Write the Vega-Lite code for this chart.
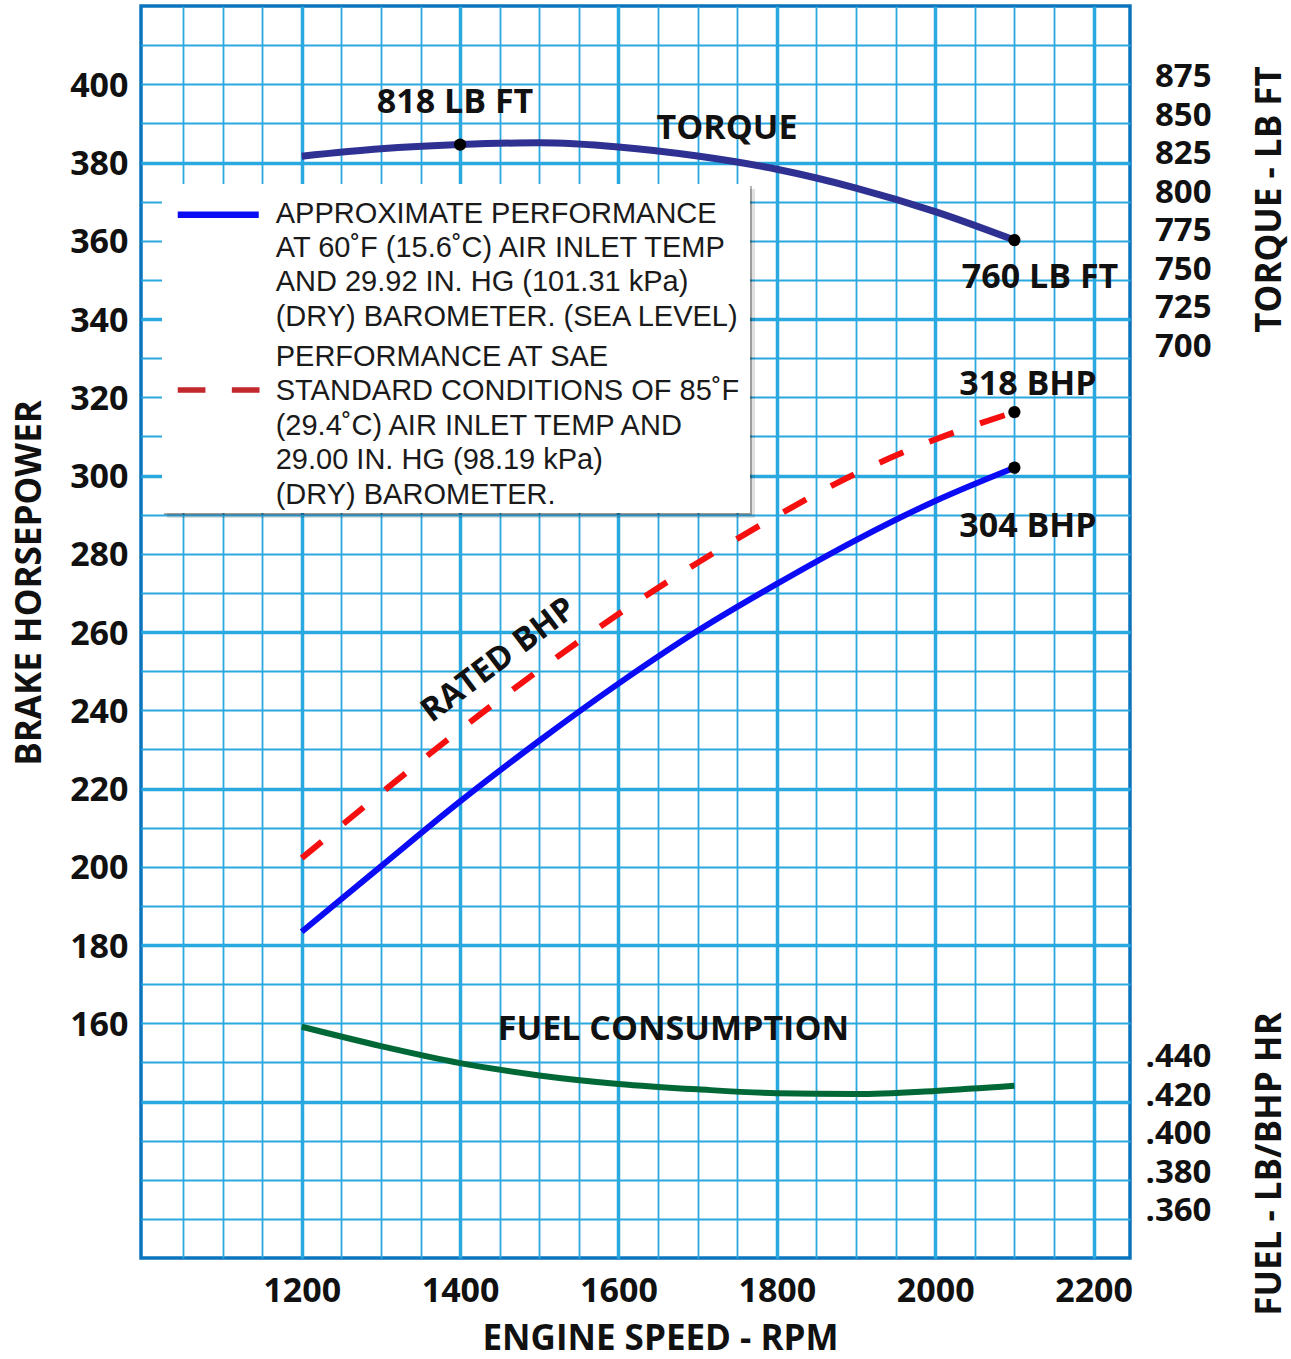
{
  "$schema": "https://vega.github.io/schema/vega-lite/v6.json",
  "width": 989,
  "height": 1252,
  "autosize": "none",
  "padding": {"left": 141, "top": 6, "right": 161, "bottom": 101},
  "background": "white",
  "config": {
    "view": {"stroke": "#0b74bd", "strokeWidth": 3.5, "fill": "white"},
    "axis": {
      "labelFont": "Open Sans", "labelFontWeight": "bold", "labelFontSize": 34, "labelColor": "#111111",
      "titleFont": "Open Sans", "titleFontWeight": "bold", "titleFontSize": 35, "titleColor": "#111111",
      "ticks": false, "tickSize": 0, "domain": false, "labelOverlap": false, "labelFlush": false
    }
  },
  "datasets": {
    "bhp": [
      {"rpm": 1200, "approx": 183.4, "rated": 202.2},
      {"rpm": 1300, "approx": 200.1, "rated": 218.8},
      {"rpm": 1400, "approx": 216.7, "rated": 235.0},
      {"rpm": 1500, "approx": 232.2, "rated": 250.3},
      {"rpm": 1600, "approx": 246.8, "rated": 264.6},
      {"rpm": 1700, "approx": 260.3, "rated": 277.7},
      {"rpm": 1800, "approx": 272.3, "rated": 289.7},
      {"rpm": 1900, "approx": 283.5, "rated": 300.5},
      {"rpm": 2000, "approx": 293.5, "rated": 309.2},
      {"rpm": 2100, "approx": 302.0, "rated": 316.2}
    ],
    "torque": [
      {"rpm": 1200, "torque": 823.5},
      {"rpm": 1300, "torque": 828.3},
      {"rpm": 1400, "torque": 831.0},
      {"rpm": 1500, "torque": 832.2},
      {"rpm": 1600, "torque": 829.5},
      {"rpm": 1700, "torque": 823.6},
      {"rpm": 1800, "torque": 815.0},
      {"rpm": 1900, "torque": 802.8},
      {"rpm": 2000, "torque": 787.5},
      {"rpm": 2100, "torque": 769.0}
    ],
    "fuel": [
      {"rpm": 1200, "fuel": 0.4554},
      {"rpm": 1300, "fuel": 0.4454},
      {"rpm": 1400, "fuel": 0.4366},
      {"rpm": 1500, "fuel": 0.4302},
      {"rpm": 1600, "fuel": 0.4258},
      {"rpm": 1700, "fuel": 0.4230},
      {"rpm": 1800, "fuel": 0.4210},
      {"rpm": 1900, "fuel": 0.4206},
      {"rpm": 2000, "fuel": 0.4222},
      {"rpm": 2100, "fuel": 0.4248}
    ],
    "bhpPoints": [
      {"rpm": 2100, "hp": 316.2},
      {"rpm": 2100, "hp": 302.0}
    ],
    "torquePoints": [
      {"rpm": 1400, "torque": 831.0},
      {"rpm": 2100, "torque": 769.0}
    ],
    "notes": [
      {"rpm": 1393.6, "hp": 395.2, "note": "818 LB FT"},
      {"rpm": 1737.0, "hp": 388.5, "note": "TORQUE"},
      {"rpm": 2132.4, "hp": 350.4, "note": "760 LB FT"},
      {"rpm": 2117.2, "hp": 323.1, "note": "318 BHP"},
      {"rpm": 2117.2, "hp": 286.8, "note": "304 BHP"},
      {"rpm": 1669.4, "hp": 158.4, "note": "FUEL CONSUMPTION"}
    ],
    "rotNote": [
      {"rpm": 1448.6, "hp": 252.8, "note": "RATED BHP"}
    ]
  },
  "layer": [
    {
      "data": {"name": "bhp"},
      "mark": {"type": "line", "color": "#0b0bf5", "strokeWidth": 6, "interpolate": "monotone"},
      "encoding": {
        "x": {
          "field": "rpm", "type": "quantitative",
          "scale": {"domain": [997, 2246], "nice": false, "zero": false},
          "axis": {
            "values": [1050, 1100, 1150, 1200, 1250, 1300, 1350, 1400, 1450, 1500, 1550, 1600, 1650, 1700, 1750, 1800, 1850, 1900, 1950, 2000, 2050, 2100, 2150, 2200],
            "format": "d",
            "labelExpr": "datum.value % 200 === 0 ? datum.label : ''",
            "grid": true,
            "gridColor": "#2aa8e0",
            "gridWidth": {"condition": {"test": "(datum.value - 1000) % 200 === 0", "value": 3.5}, "value": 1.8},
            "labelPadding": 16,
            "title": "ENGINE SPEED - RPM",
            "titleX": 519, "titleY": 80, "titleAlign": "center", "titleBaseline": "middle", "titleAngle": 0
          }
        },
        "y": {
          "field": "approx", "type": "quantitative",
          "scale": {"domain": [100, 420], "nice": false, "zero": false},
          "axis": {
            "orient": "left",
            "values": [110, 120, 130, 140, 150, 160, 170, 180, 190, 200, 210, 220, 230, 240, 250, 260, 270, 280, 290, 300, 310, 320, 330, 340, 350, 360, 370, 380, 390, 400, 410],
            "format": "d",
            "labelExpr": "datum.value >= 160 && datum.value % 20 === 0 ? datum.label : ''",
            "grid": true,
            "gridColor": "#2aa8e0",
            "gridWidth": {"condition": {"test": "(datum.value - 100) % 40 === 0", "value": 3.5}, "value": 1.8},
            "labelPadding": 13,
            "labelOffset": 2,
            "title": "BRAKE HORSEPOWER",
            "titleX": -112, "titleY": 576.5, "titleAngle": 270, "titleAlign": "center", "titleBaseline": "middle"
          }
        }
      }
    },
    {
      "data": {"name": "torque"},
      "mark": {"type": "line", "color": "#2e3192", "strokeWidth": 7, "interpolate": "monotone"},
      "encoding": {
        "x": {"field": "rpm", "type": "quantitative"},
        "y": {
          "field": "torque", "type": "quantitative",
          "scale": {"domain": [108, 921], "nice": false, "zero": false},
          "axis": {
            "orient": "right",
            "values": [700, 725, 750, 775, 800, 825, 850, 875],
            "format": "d",
            "grid": false,
            "labelFontSize": 33,
            "labelAlign": "right",
            "labelPadding": 81,
            "labelBaseline": "middle",
            "title": "TORQUE - LB FT",
            "titleX": 139, "titleY": 193, "titleAngle": 270, "titleAlign": "center", "titleBaseline": "middle"
          }
        }
      }
    },
    {
      "data": {"name": "fuel"},
      "mark": {"type": "line", "color": "#006837", "strokeWidth": 6, "interpolate": "monotone"},
      "encoding": {
        "x": {"field": "rpm", "type": "quantitative"},
        "y": {
          "field": "fuel", "type": "quantitative",
          "scale": {"domain": [0.33566, 0.984], "nice": false, "zero": false},
          "axis": {
            "orient": "right",
            "values": [0.36, 0.38, 0.40, 0.42, 0.44],
            "labelExpr": "replace(format(datum.value, '.3f'), '0.', '.')",
            "grid": false,
            "labelFontSize": 33,
            "labelAlign": "right",
            "labelPadding": 81,
            "labelBaseline": "middle",
            "title": "FUEL - LB/BHP HR",
            "titleX": 139, "titleY": 1157.5, "titleAngle": 270, "titleAlign": "center", "titleBaseline": "middle"
          }
        }
      }
    },
    {
      "data": {"name": "bhp"},
      "mark": {"type": "line", "color": "#f5100f", "strokeWidth": 6, "strokeDash": [26, 28], "interpolate": "monotone"},
      "encoding": {
        "x": {"field": "rpm", "type": "quantitative"},
        "y": {"field": "rated", "type": "quantitative", "scale": {"domain": [100, 420], "nice": false, "zero": false}, "axis": null}
      }
    },
    {
      "data": {"name": "bhpPoints"},
      "mark": {"type": "point", "filled": true, "color": "#000000", "size": 150, "opacity": 1},
      "encoding": {
        "x": {"field": "rpm", "type": "quantitative"},
        "y": {"field": "hp", "type": "quantitative", "scale": {"domain": [100, 420], "nice": false, "zero": false}, "axis": null}
      }
    },
    {
      "data": {"name": "torquePoints"},
      "mark": {"type": "point", "filled": true, "color": "#000000", "size": 150, "opacity": 1},
      "encoding": {
        "x": {"field": "rpm", "type": "quantitative"},
        "y": {"field": "torque", "type": "quantitative", "scale": {"domain": [108, 921], "nice": false, "zero": false}, "axis": null}
      }
    },
    {
      "data": {"name": "notes"},
      "mark": {"type": "text", "font": "Open Sans", "fontWeight": "bold", "fontSize": 34, "color": "#111111", "align": "center", "baseline": "middle"},
      "encoding": {
        "x": {"field": "rpm", "type": "quantitative"},
        "y": {"field": "hp", "type": "quantitative", "scale": {"domain": [100, 420], "nice": false, "zero": false}, "axis": null},
        "text": {"field": "note"}
      }
    },
    {
      "data": {"name": "rotNote"},
      "mark": {"type": "text", "font": "Open Sans", "fontWeight": "bold", "fontSize": 33, "color": "#111111", "align": "center", "baseline": "middle", "angle": -37},
      "encoding": {
        "x": {"field": "rpm", "type": "quantitative"},
        "y": {"field": "hp", "type": "quantitative", "scale": {"domain": [100, 420], "nice": false, "zero": false}, "axis": null},
        "text": {"field": "note"}
      }
    },
    {
      "data": {"values": [{}]},
      "mark": {"type": "rect", "fill": "#000000", "opacity": 0.12, "xOffset": 5, "x2Offset": 5, "yOffset": 5, "y2Offset": 5},
      "encoding": {
        "x": {"datum": 1023.5, "type": "quantitative"},
        "x2": {"datum": 1766.1},
        "y": {"datum": 374.5, "type": "quantitative", "scale": {"domain": [100, 420], "nice": false, "zero": false}, "axis": null},
        "y2": {"datum": 290.4}
      }
    },
    {
      "data": {"values": [{}]},
      "mark": {"type": "rect", "fill": "#000000", "opacity": 0.3, "xOffset": 2, "x2Offset": 2, "yOffset": 2, "y2Offset": 2},
      "encoding": {
        "x": {"datum": 1023.5, "type": "quantitative"},
        "x2": {"datum": 1766.1},
        "y": {"datum": 374.5, "type": "quantitative", "scale": {"domain": [100, 420], "nice": false, "zero": false}, "axis": null},
        "y2": {"datum": 290.4}
      }
    },
    {
      "data": {"values": [{}]},
      "mark": {"type": "rect", "fill": "#ffffff", "opacity": 1},
      "encoding": {
        "x": {"datum": 1023.5, "type": "quantitative"},
        "x2": {"datum": 1766.1},
        "y": {"datum": 374.5, "type": "quantitative", "scale": {"domain": [100, 420], "nice": false, "zero": false}, "axis": null},
        "y2": {"datum": 290.4}
      }
    },
    {
      "data": {"values": [{}]},
      "mark": {"type": "rule", "color": "#0b0bf5", "strokeWidth": 6.5},
      "encoding": {
        "x": {"datum": 1043.4, "type": "quantitative"},
        "x2": {"datum": 1145.7},
        "y": {"datum": 366.66, "type": "quantitative", "scale": {"domain": [100, 420], "nice": false, "zero": false}, "axis": null}
      }
    },
    {
      "data": {"values": [{}]},
      "mark": {"type": "rule", "color": "#c1272d", "strokeWidth": 5.5, "strokeDash": [27.7, 26.4]},
      "encoding": {
        "x": {"datum": 1043.4, "type": "quantitative"},
        "x2": {"datum": 1146.7},
        "y": {"datum": 321.85, "type": "quantitative", "scale": {"domain": [100, 420], "nice": false, "zero": false}, "axis": null}
      }
    },
    {
      "data": {"values": [{}]},
      "mark": {
        "type": "text", "font": "Liberation Sans", "fontSize": 29, "color": "#1a1a1a",
        "align": "left", "baseline": "alphabetic", "lineHeight": 34.4,
        "text": ["APPROXIMATE PERFORMANCE", "AT 60˚F (15.6˚C) AIR INLET TEMP", "AND 29.92 IN. HG (101.31 kPa)", "(DRY) BAROMETER. (SEA LEVEL)"]
      },
      "encoding": {
        "x": {"datum": 1167.1, "type": "quantitative"},
        "y": {"datum": 364.66, "type": "quantitative", "scale": {"domain": [100, 420], "nice": false, "zero": false}, "axis": null}
      }
    },
    {
      "data": {"values": [{}]},
      "mark": {
        "type": "text", "font": "Liberation Sans", "fontSize": 29, "color": "#1a1a1a",
        "align": "left", "baseline": "alphabetic", "lineHeight": 34.4,
        "text": ["PERFORMANCE AT SAE", "STANDARD CONDITIONS OF 85˚F", "(29.4˚C) AIR INLET TEMP AND", "29.00 IN. HG (98.19 kPa)", "(DRY) BAROMETER."]
      },
      "encoding": {
        "x": {"datum": 1167.1, "type": "quantitative"},
        "y": {"datum": 328.0, "type": "quantitative", "scale": {"domain": [100, 420], "nice": false, "zero": false}, "axis": null}
      }
    }
  ],
  "resolve": {"scale": {"y": "independent"}, "axis": {"y": "independent"}}
}
